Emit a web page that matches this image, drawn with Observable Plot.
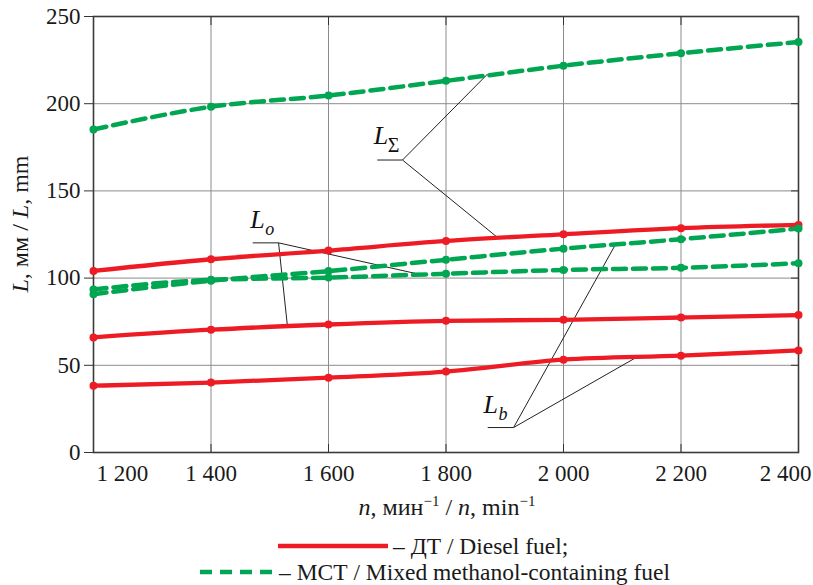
<!DOCTYPE html>
<html><head><meta charset="utf-8">
<script src="https://cdn.jsdelivr.net/npm/d3@7"></script>
<script src="https://cdn.jsdelivr.net/npm/@observablehq/plot@0.6"></script>
<style>
body{margin:0;background:#fff;font-family:"Liberation Serif",serif;}
#wrap{position:relative;width:813px;height:585px;overflow:hidden;background:#fff;}
#wrap svg{position:absolute;left:0;}
</style></head><body><div id="wrap"></div>
<script>
// ---- data ----
const rpm = [1200, 1400, 1600, 1800, 2000, 2200, 2400];
const yTicks = [0, 50, 100, 150, 200, 250];
const dtSum  = [104.1, 110.8, 115.8, 121.3, 125.1, 128.6, 130.5];
const dtO    = [66.0, 70.4, 73.4, 75.5, 76.1, 77.4, 78.8];
const dtB    = [38.3, 40.1, 42.9, 46.4, 53.2, 55.5, 58.5];
const mstSum = [185.2, 198.2, 204.7, 213.1, 221.8, 228.9, 235.4];
const mstB   = [90.8, 98.5, 104.0, 110.5, 116.9, 122.3, 128.4];
const mstO   = [93.5, 99.0, 100.3, 102.5, 104.7, 105.9, 108.5];
const fuels = ["ДТ", "МСТ"];
const legendLabels = ["– ДТ / Diesel fuel;", "– МСТ / Mixed methanol-containing fuel"];
const annoMain = ["L", "L", "L"];
const annoSub = ["Σ", "o", "b"];
const annoN = [1677, 1467, 1864];
const annoV = [176.8, 128.8, 22.9];
const ulX1 = [1683, 1471, 1871];
const ulX2 = [1726, 1515, 1915];
const ulY  = [167.7, 120.2, 14.3];
const leadX1 = [1726, 1726, 1515, 1515, 1915, 1915];
const leadY1 = [167.7, 167.7, 120.2, 120.2, 14.3, 14.3];
const leadX2 = [1871, 1888, 1753, 1530, 2088, 2129];
const leadY2 = [217.1, 123.2, 102.3, 72.7, 119.0, 55.5];

const RED = "#ed1c24", GREEN = "#00a651";
const series = [
  {key: "dtSum", fuel: "ДТ", values: dtSum},
  {key: "dtO", fuel: "ДТ", values: dtO},
  {key: "dtB", fuel: "ДТ", values: dtB},
  {key: "mstSum", fuel: "МСТ", values: mstSum},
  {key: "mstB", fuel: "МСТ", values: mstB},
  {key: "mstO", fuel: "МСТ", values: mstO}
];
const rows = [];
series.forEach(s => s.values.forEach((v, i) => rows.push({n: rpm[i], v, key: s.key, fuel: s.fuel})));
const anno = annoMain.map((t, i) => ({t, s: annoSub[i], n: annoN[i], v: annoV[i]}));
const uls = ulX1.map((x, i) => ({x1: x, x2: ulX2[i], y: ulY[i]}));
const leads = leadX1.map((x, i) => ({x1: x, y1: leadY1[i], x2: leadX2[i], y2: leadY2[i]}));
const fmt = d => d3.format(",")(d).replace(/,/g, " ");

const chart = Plot.plot({
  width: 813, height: 530,
  marginTop: 16, marginRight: 15, marginBottom: 78, marginLeft: 93,
  style: {fontFamily: '"Liberation Serif", serif', fontSize: "23px", color: "#1a1a1a", background: "transparent", overflow: "visible"},
  x: {domain: [1200, 2400], label: null},
  y: {domain: [0, 250], label: null},
  marks: [
    Plot.gridX(rpm.slice(1, -1), {stroke: "#8c8c8c", strokeOpacity: 1, strokeWidth: 1}),
    Plot.gridY(yTicks.slice(1, -1), {stroke: "#8c8c8c", strokeOpacity: 1, strokeWidth: 1}),
    Plot.frame({stroke: "#3a3a3a", strokeWidth: 1.6}),
    Plot.axisY(yTicks, {anchor: "left", tickSize: 9, tickPadding: 4, stroke: "#333", label: null}),
    Plot.axisY(yTicks.slice(1, -1), {anchor: "right", tickSize: 8, dx: -8, fill: "none", stroke: "#333", label: null}),
    Plot.axisX(rpm.slice(1, -1), {anchor: "top", tickSize: 8, dy: 8, fill: "none", stroke: "#333", label: null}),
    Plot.axisX(rpm.slice(1, -1), {anchor: "bottom", tickSize: 8, dy: -8, fill: "none", stroke: "#333", label: null}),
    Plot.axisX(rpm.slice(1, -1), {anchor: "bottom", tickSize: 0, tickPadding: 12, tickFormat: fmt, label: null}),
    Plot.axisX(rpm.slice(0, 1), {anchor: "bottom", tickSize: 0, tickPadding: 12, tickFormat: fmt, textAnchor: "start", dx: 3, label: null}),
    Plot.axisX(rpm.slice(-1), {anchor: "bottom", tickSize: 0, tickPadding: 12, tickFormat: fmt, textAnchor: "end", dx: 13, label: null}),
    Plot.link(leads, {x1: "x1", y1: "y1", x2: "x2", y2: "y2", stroke: "#222", strokeWidth: 1}),
    Plot.link(uls, {x1: "x1", y1: "y", x2: "x2", y2: "y", stroke: "#222", strokeWidth: 1}),
    Plot.text(anno, {x: "n", y: "v", text: "t", textAnchor: "start", lineAnchor: "bottom", fontSize: 26, fontStyle: "italic", fill: "#111"}),
    Plot.text(anno.filter(d => d.s !== "Σ"), {x: "n", y: "v", text: "s", textAnchor: "start", lineAnchor: "bottom", fontSize: 18, fontStyle: "italic", dx: 15, dy: 7, fill: "#111"}),
    Plot.text(anno.filter(d => d.s === "Σ"), {x: "n", y: "v", text: "s", textAnchor: "start", lineAnchor: "bottom", fontSize: 20, dx: 14, dy: 8, fill: "#111"}),
    Plot.line(rows.filter(d => d.fuel === fuels[0]), {x: "n", y: "v", z: "key", stroke: RED, strokeWidth: 4.3, curve: "monotone-x"}),
    Plot.line(rows.filter(d => d.fuel === fuels[1]), {x: "n", y: "v", z: "key", stroke: GREEN, strokeWidth: 4.5, strokeDasharray: "13,7", curve: "monotone-x"}),
    Plot.dot(rows, {x: "n", y: "v", r: 4, fill: d => d.fuel === fuels[0] ? RED : GREEN, stroke: "none"})
  ]
});
const wrap = document.getElementById("wrap");
chart.style.top = "0px";
wrap.appendChild(chart);

const svg = d3.select(chart);
// x title
const xt = svg.append("text").attr("x", 447).attr("y", 515).attr("text-anchor", "middle")
  .attr("font-size", 24).attr("fill", "#1a1a1a");
xt.append("tspan").attr("font-style", "italic").text("n");
xt.append("tspan").text(", мин");
xt.append("tspan").attr("dy", -9).attr("font-size", 15).text("−1");
xt.append("tspan").attr("dy", 9).text(" / ");
xt.append("tspan").attr("font-style", "italic").text("n");
xt.append("tspan").text(", min");
xt.append("tspan").attr("dy", -9).attr("font-size", 15).text("−1");
// y title
const yt = svg.append("text").attr("transform", "translate(28,224) rotate(-90)").attr("text-anchor", "middle")
  .attr("font-size", 24).attr("fill", "#1a1a1a");
yt.append("tspan").attr("font-style", "italic").text("L");
yt.append("tspan").text(", мм / ");
yt.append("tspan").attr("font-style", "italic").text("L");
yt.append("tspan").text(", mm");

// legend
const leg = d3.select(wrap).append("svg").attr("width", 813).attr("height", 55).style("top", "530px");
const legRows = [
  {x1: 278, x2: 388, y: 16, tx: 393, ty: 24, color: RED, dash: null},
  {x1: 200, x2: 274, y: 42, tx: 279, ty: 50, color: GREEN, dash: "12,8"}
];
legRows.forEach((r, i) => {
  leg.append("line").attr("x1", r.x1).attr("x2", r.x2).attr("y1", r.y).attr("y2", r.y)
    .attr("stroke", r.color).attr("stroke-width", 4.5).attr("stroke-dasharray", r.dash);
  leg.append("text").attr("x", r.tx).attr("y", r.ty).attr("font-size", 23.5)
    .attr("font-family", '"Liberation Serif", serif').attr("fill", "#1a1a1a").text(legendLabels[i]);
});
</script></body></html>
